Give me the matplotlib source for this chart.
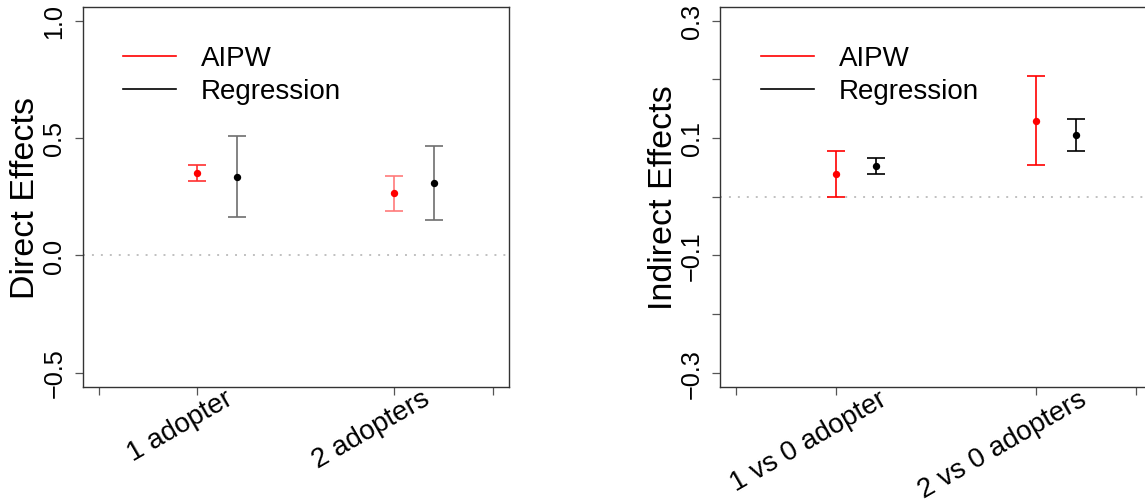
import numpy as np
import matplotlib.pyplot as plt
import matplotlib.transforms as mtransforms
from matplotlib.lines import Line2D

plt.rcParams['font.family'] = ['Liberation Sans', 'DejaVu Sans']

# Direct effects (left panel)
direct_labels = ['1 adopter', '2 adopters']
direct_aipw = [0.349, 0.264]
direct_aipw_lo = [0.315, 0.189]
direct_aipw_hi = [0.383, 0.339]
direct_reg = [0.335, 0.307]
direct_reg_lo = [0.164, 0.150]
direct_reg_hi = [0.507, 0.464]

# Indirect effects (right panel)
indirect_labels = ['1 vs 0 adopter', '2 vs 0 adopters']
indirect_aipw = [0.039, 0.129]
indirect_aipw_lo = [0.0, 0.054]
indirect_aipw_hi = [0.0775, 0.205]
indirect_reg = [0.053, 0.105]
indirect_reg_lo = [0.039, 0.0785]
indirect_reg_hi = [0.0655, 0.132]

W, H = 1145, 502
fig = plt.figure(figsize=(W / 100, H / 100), dpi=100)


def draw_panel(ax, labels, aipw, aipw_lo, aipw_hi, reg, reg_lo, reg_hi,
               ylim, yticks, yticklabels, ylabel, aipw_cols, reg_cols,
               lab_shift, ylab_x):
    pos = np.arange(1, len(labels) + 1)
    for i, p in enumerate(pos):
        # intervals first, then the point estimates on top
        ax.errorbar(p, aipw[i], yerr=[[aipw[i] - aipw_lo[i]], [aipw_hi[i] - aipw[i]]],
                    fmt='none', ecolor=aipw_cols[i], capsize=6.3,
                    elinewidth=1.2, capthick=1.2)
        ax.errorbar(p + 0.2, reg[i], yerr=[[reg[i] - reg_lo[i]], [reg_hi[i] - reg[i]]],
                    fmt='none', ecolor=reg_cols[i], capsize=6.3,
                    elinewidth=1.2, capthick=1.2)
    ax.plot(pos, aipw, 'o', color='red', markersize=5.3, markeredgewidth=0, zorder=3)
    ax.plot(pos + 0.2, reg, 'o', color='black', markersize=5.3, markeredgewidth=0, zorder=3)
    ax.axhline(0, color='#c0c0c0', lw=1.4, linestyle=(0, (1, 3.6)), zorder=0)

    ax.set_xlim(0.42, 2.58)
    ax.set_ylim(*ylim)
    ax.set_xticks([0.5, 1, 2, 2.5])
    ax.set_xticklabels([])
    ax.set_yticks(yticks)
    ax.set_yticklabels(yticklabels, rotation=90, va='center', fontsize=18.2)
    ax.tick_params(axis='both', length=6, width=0.9, color='#555555')
    ax.tick_params(axis='y', pad=6)
    for s in ax.spines.values():
        s.set_linewidth(1.0)
        s.set_color('#333333')

    # rotated category labels hanging under the axis
    tr = mtransforms.blended_transform_factory(ax.transData, ax.transAxes)
    for p, lab in zip(pos, labels):
        ax.text(p + lab_shift, -0.026, lab, transform=tr, rotation=30,
                rotation_mode='anchor', ha='right', va='center', fontsize=20,
                clip_on=False)

    ax.set_ylabel(ylabel, fontsize=24.5)
    ax.yaxis.set_label_coords(ylab_x, 0.5)

    handles = [Line2D([], [], color='red', lw=1.2), Line2D([], [], color='black', lw=1.2)]
    ax.legend(handles, ['AIPW', 'Regression'], loc='upper left',
              bbox_to_anchor=(0.094, 0.898), frameon=False, fontsize=20,
              handlelength=1.9, handletextpad=0.9, labelspacing=0.25,
              borderpad=0, borderaxespad=0)


ax1 = fig.add_axes([83 / W, 114.3 / H, 425.6 / W, 380.2 / H])
draw_panel(ax1, direct_labels, direct_aipw, direct_aipw_lo, direct_aipw_hi,
           direct_reg, direct_reg_lo, direct_reg_hi,
           (-0.56, 1.06), [-0.5, 0.0, 0.5, 1.0], ['\u22120.5', '0.0', '0.5', '1.0'],
           'Direct Effects', ['#ff3030', '#ff7a7a'], ['#6e6e6e', '#6e6e6e'],
           0.17, -0.098)

ax2 = fig.add_axes([720.5 / W, 114.3 / H, 431.8 / W, 380.2 / H])
draw_panel(ax2, indirect_labels, indirect_aipw, indirect_aipw_lo, indirect_aipw_hi,
           indirect_reg, indirect_reg_lo, indirect_reg_hi,
           (-0.324, 0.324), [-0.3, -0.2, -0.1, 0.0, 0.1, 0.2, 0.3],
           ['\u22120.3', '', '\u22120.1', '', '0.1', '', '0.3'],
           'Indirect Effects', ['red', 'red'], ['black', 'black'],
           0.24, -0.095)

fig.savefig('out.png', dpi=100)
